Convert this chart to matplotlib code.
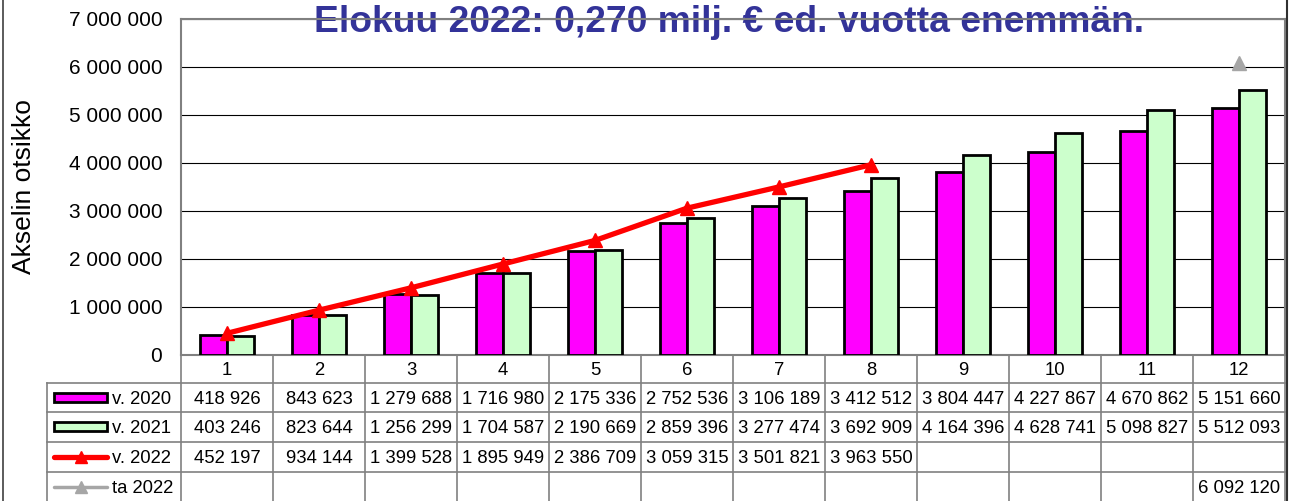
import matplotlib
matplotlib.use('Agg')
import matplotlib.pyplot as plt
import numpy as np
from matplotlib.ticker import FuncFormatter, MultipleLocator
from matplotlib.patches import Rectangle
from matplotlib.lines import Line2D

plt.rcParams['font.family'] = ['Liberation Sans', 'DejaVu Sans']

# ---------------- data ----------------
months = [1, 2, 3, 4, 5, 6, 7, 8, 9, 10, 11, 12]
v2020 = [418926, 843623, 1279688, 1716980, 2175336, 2752536, 3106189,
         3412512, 3804447, 4227867, 4670862, 5151660]
v2021 = [403246, 823644, 1256299, 1704587, 2190669, 2859396, 3277474,
         3692909, 4164396, 4628741, 5098827, 5512093]
v2022 = [452197, 934144, 1399528, 1895949, 2386709, 3059315, 3501821, 3963550]
ta2022_months = [12]
ta2022 = [6092120]
series_labels = ['v. 2020', 'v. 2021', 'v. 2022', 'ta 2022']
title = 'Elokuu 2022: 0,270 milj. € ed. vuotta enemmän.'
ylabel = 'Akselin otsikko'

C20 = '#FF00FF'
C21 = '#CCFFCC'
C22 = '#FF0000'
CTA = '#A6A6A6'
GRAY = '#808080'


def fmt(v):
    return f"{int(v):,}".replace(",", " ")


W, H = 1293, 501
fig = plt.figure(figsize=(W / 100, H / 100), dpi=100)
L, R, T, B = 181, 1285, 19, 355

ax = fig.add_axes([L / W, 1 - B / H, (R - L) / W, (B - T) / H])
ax.set_facecolor('none')
x = np.array(months, dtype=float)
bw = 0.29
ax.bar(x - bw / 2, v2020, bw, color=C20, edgecolor='black', lw=2, zorder=3)
ax.bar(x + bw / 2, v2021, bw, color=C21, edgecolor='black', lw=2, zorder=3)
ax.plot(x[:len(v2022)], v2022, color=C22, lw=3.8, marker='^', ms=10, zorder=4,
        solid_capstyle='butt')
ax.plot(ta2022_months, ta2022, ls='none', marker='^', color=CTA, ms=10, zorder=4)
ax.set_xlim(0.5, 12.5)
ax.set_ylim(0, 7e6)
ax.yaxis.set_major_locator(MultipleLocator(1e6))
ax.yaxis.set_major_formatter(FuncFormatter(lambda v, p: fmt(v)))
ax.tick_params(axis='y', length=0, pad=13.5, labelsize=15)
ax.set_xticks([])
ax.grid(axis='y', color='black', lw=0.8, zorder=1)
ax.set_axisbelow(True)
for s in ax.spines.values():
    s.set_color(GRAY)
    s.set_linewidth(1.5)
ax.set_ylabel(ylabel, fontsize=19)
ax.yaxis.set_label_coords((36 - L) / (R - L), 0.5)

# ---------------- data table ----------------
tax = fig.add_axes([L / W, 0, (R - L) / W, (H - B) / H])
tax.set_xlim(0.5, 12.5)
tax.set_ylim(H, B)
tax.axis('off')
cw = (R - L) / 12.0


def px2x(px):
    return 0.5 + (px - L) / cw


row_tops = [383, 412, 442, 472]
bottom = H + 10
leg_left = px2x(47)
for xv in np.arange(0.5, 13.0, 1.0):
    tax.plot([xv, xv], [B, bottom], color=GRAY, lw=1.2, clip_on=False)
tax.plot([leg_left, leg_left], [row_tops[0], bottom], color=GRAY, lw=1.2, clip_on=False)
for yv in row_tops:
    tax.plot([leg_left, 12.5], [yv, yv], color=GRAY, lw=1.2, clip_on=False)

fs = 13.3
for m in months:
    tax.text(m, B + 20, str(m), ha='center', va='baseline', fontsize=fs)

rows = [
    (months, v2020),
    (months, v2021),
    (months[:len(v2022)], v2022),
    (ta2022_months, ta2022),
]
for (mm, vals), top in zip(rows, row_tops):
    for m, v in zip(mm, vals):
        tax.text(m, top + 20.5, fmt(v), ha='center', va='baseline', fontsize=fs)

# legend keys
sx0, sx1 = px2x(54), px2x(107)
for i, (lab, top) in enumerate(zip(series_labels, row_tops)):
    yc = top + 14.5
    if i < 2:
        col = C20 if i == 0 else C21
        tax.add_patch(Rectangle((sx0, yc - 4.5), sx1 - sx0, 9, facecolor=col,
                                edgecolor='black', lw=2, clip_on=False))
    else:
        col = C22 if i == 2 else CTA
        lw = 3.8 if i == 2 else 2.5
        tax.plot([sx0, sx1], [yc, yc], color=col, lw=lw, clip_on=False,
                 solid_capstyle='round')
        tax.plot([(sx0 + sx1) / 2], [yc], marker='^', color=col, ms=8,
                 ls='none', clip_on=False)
    tax.text(px2x(112), top + 20.5, lab, ha='left', va='baseline', fontsize=fs)

# figure border lines
fig.add_artist(Line2D([2.5 / W, 2.5 / W], [0, 1], color='#404040', lw=1.2))
fig.add_artist(Line2D([1286.5 / W, 1286.5 / W], [0, 1], color='#303030', lw=1.5))

# title (drawn beneath the plot frame)
fig.text(729.5 / W, 1 - 32 / H, title, ha='center', va='baseline', fontsize=26.8,
         fontweight='bold', color='#333399', zorder=-1)

fig.savefig('out.png', dpi=100)
